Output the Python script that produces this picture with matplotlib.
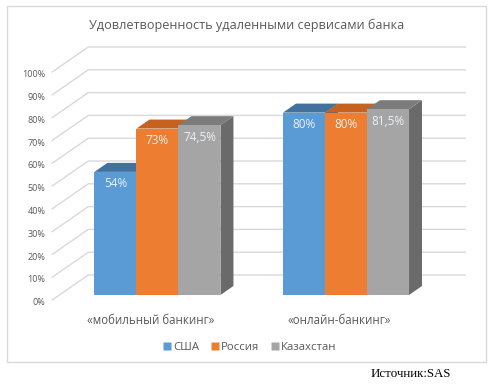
import matplotlib.pyplot as plt
from matplotlib.patches import Polygon, Rectangle
from matplotlib.lines import Line2D

plt.rcParams['font.family'] = ['Open Sans', 'DejaVu Sans']

# data
categories = ["«мобильный банкинг»", "«онлайн-банкинг»"]
series = ["США", "Россия", "Казахстан"]
usa = [54, 80]
russia = [73, 80]
kazakhstan = [74.5, 81.5]
y_ticks = list(range(0, 101, 10))

values = [usa, russia, kazakhstan]
front_colors = ["#5B9BD5", "#ED7D31", "#A5A5A5"]
top_colors = ["#41719C", "#C5621F", "#7C7C7C"]
side_colors = ["#3A6590", "#AE5A1F", "#6A6A6A"]
grid_color = "#D9D9D9"
text_color = "#595959"

# oblique projection: depth z in [0, 1] (front to back of the floor)
DX = 36 / 188.5
DY = 25 / 2.28
X_LEFT, X_RIGHT = -0.52, 1.48
BAR_Z0, BAR_Z1 = 0.2, 0.56
BAR_W = 0.2228


def proj(x, v, z):
    return x + z * DX, v + z * DY


def fmt(v):
    s = f"{v:g}%"
    return s.replace(".", ",")


fig = plt.figure(figsize=(5, 3.84), dpi=100)
ax = fig.add_axes([0, 0, 1, 1])
ax.set_xlim(-0.797, 1.855)
ax.set_ylim(-36.84, 131.58)
ax.axis('off')

# chart border
fig.patches.append(Rectangle((7 / 500, 1 - 362 / 384), 479 / 500, 356 / 384,
                             transform=fig.transFigure, fill=False,
                             edgecolor=grid_color, lw=1))

# walls: side wall diagonals and back wall lines
for v in y_ticks:
    x0, y0 = proj(X_LEFT, v, 0)
    x1, y1 = proj(X_LEFT, v, 1)
    x2, y2 = proj(X_RIGHT, v, 1)
    ax.plot([x0, x1, x2], [y0, y1, y2], color=grid_color, lw=1, zorder=1)
    ax.annotate(f"{v}%", xy=(x0, y0), xytext=(-5, -2), textcoords='offset points',
                ha='right', va='center', fontsize=6.5, color=text_color)

# bars
for i in range(len(categories)):
    for k, vals in enumerate(values):
        v = vals[i]
        xl = i + (k - 1.5) * BAR_W
        xr = xl + BAR_W
        fl = proj(xl, 0, BAR_Z0)
        fr = proj(xr, 0, BAR_Z0)
        ftl = proj(xl, v, BAR_Z0)
        ftr = proj(xr, v, BAR_Z0)
        btl = proj(xl, v, BAR_Z1)
        btr = proj(xr, v, BAR_Z1)
        bbr = proj(xr, 0, BAR_Z1)
        ax.add_patch(Polygon([fr, ftr, btr, bbr], closed=True,
                             facecolor=side_colors[k], edgecolor='none', zorder=2))
        ax.add_patch(Polygon([ftl, ftr, btr, btl], closed=True,
                             facecolor=top_colors[k], edgecolor='none', zorder=2))
        ax.add_patch(Polygon([fl, fr, ftr, ftl], closed=True,
                             facecolor=front_colors[k], edgecolor='none', zorder=2))
        cx, cy = proj(xl + BAR_W / 2, v, BAR_Z0)
        ax.annotate(fmt(v), xy=(cx, cy), xytext=(0, -4), textcoords='offset points',
                    ha='center', va='top', fontsize=8.5, color='#EEF2F8', zorder=3)

# category labels
for i, cat in enumerate(categories):
    ax.text(i, -8.8, cat, ha='center', va='center', fontsize=8.3, color=text_color)

fig.text(0.494, 1 - 25 / 384, "Удовлетворенность удаленными сервисами банка",
         ha='center', va='center', fontsize=9.1, color=text_color)

handles = [Line2D([], [], marker='s', linestyle='none', markersize=5.5,
                  markerfacecolor=c, markeredgecolor='none') for c in front_colors]
fig.legend(handles, series, loc='center', bbox_to_anchor=(0.5, 1 - 347 / 384),
           ncol=3, frameon=False, fontsize=8.2, handlelength=0.7,
           handletextpad=0.2, columnspacing=1.0, labelcolor=text_color)

fig.text(0.822, 1 - 374 / 384, "Источник:SAS", ha='center', va='center',
         fontsize=9.3, family=['Liberation Serif', 'DejaVu Serif'], color='black')

fig.savefig("out.png", dpi=100)
